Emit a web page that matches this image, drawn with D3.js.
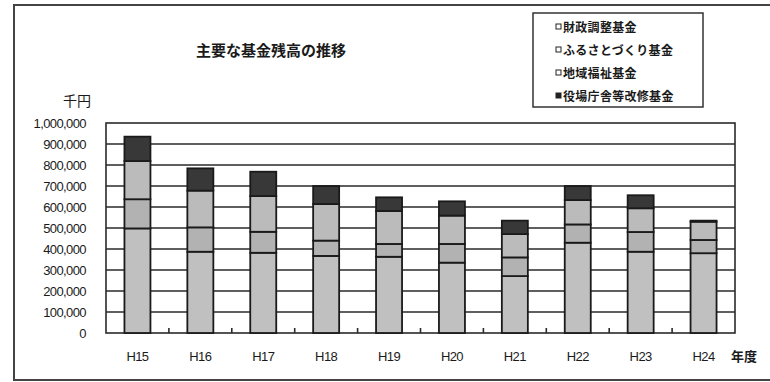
<!DOCTYPE html>
<html>
<head>
<meta charset="utf-8">
<script src="https://cdn.jsdelivr.net/npm/d3@7"></script>
<style>
  html, body { margin: 0; padding: 0; background: #fff; }
  svg { display: block; }
  text { font-family: "Liberation Sans", Arial, sans-serif; fill: #1a1a1a; }
  .jp { font-family: "Noto Sans CJK JP", sans-serif; }
</style>
</head>
<body>
<svg id="chart" width="770" height="382"></svg>
<script>
// Fiscal years (Heisei)
const categories = ["H15", "H16", "H17", "H18", "H19", "H20", "H21", "H22", "H23", "H24"];

// Fund balances, in thousand yen
const zaiseiChosei   = [498000, 387000, 382000, 367000, 363000, 335000, 271000, 430000, 387000, 380000];
const furusato       = [139000, 116000, 100000,  73000,  61000,  89000,  89000,  87000,  94000,  63000];
const chiikiFukushi  = [182000, 175000, 170000, 174000, 157000, 135000, 111000, 116000, 113000,  87000];
const yakubaKaishu   = [116000, 106000, 116000,  86000,  65000,  68000,  64000,  67000,  62000,   5000];

const seriesNames = ["財政調整基金", "ふるさとづくり基金", "地域福祉基金", "役場庁舎等改修基金"];
const seriesValues = [zaiseiChosei, furusato, chiikiFukushi, yakubaKaishu];
const yTicks = [0, 100000, 200000, 300000, 400000, 500000, 600000, 700000, 800000, 900000, 1000000];

const colors = ["#c0c0c0", "#b2b2b2", "#bbbbbb", "#383838"];

const svg = d3.select("#chart");

// outer frame
svg.append("rect")
  .attr("x", 14).attr("y", 5).attr("width", 770).attr("height", 375)
  .attr("fill", "none").attr("stroke", "#444").attr("stroke-width", 2);

const plot = { left: 106, right: 735, top: 123, bottom: 333 };

const x = d3.scaleBand().domain(categories).range([plot.left, plot.right]).paddingInner(0).paddingOuter(0);
const y = d3.scaleLinear().domain([0, 1000000]).range([plot.bottom, plot.top]);

// plot area
svg.append("rect")
  .attr("x", plot.left).attr("y", plot.top)
  .attr("width", plot.right - plot.left).attr("height", plot.bottom - plot.top)
  .attr("fill", "#fff").attr("stroke", "#2a2a2a").attr("stroke-width", 1.6);

// horizontal gridlines
svg.append("g").selectAll("line").data(yTicks.slice(1, -1)).join("line")
  .attr("x1", plot.left).attr("x2", plot.right)
  .attr("y1", d => y(d)).attr("y2", d => y(d))
  .attr("stroke", "#2a2a2a").attr("stroke-width", 1.6);

// y axis labels
const yAxis = d3.axisLeft(y).tickValues(yTicks).tickSize(0).tickPadding(20)
  .tickFormat(d3.format(","));
const gy = svg.append("g").attr("transform", `translate(${plot.left},0)`).call(yAxis);
gy.select(".domain").remove();
gy.selectAll("text").attr("font-size", 13).attr("letter-spacing", -0.6)
  .style("font-family", "'Liberation Sans', Arial, sans-serif").attr("fill", "#1a1a1a");

// x axis labels
const xAxis = d3.axisBottom(x).tickSize(0).tickPadding(19);
const gx = svg.append("g").attr("transform", `translate(0,${plot.bottom})`).call(xAxis);
gx.select(".domain").remove();
gx.selectAll("text").attr("font-size", 13).attr("letter-spacing", -0.6)
  .style("font-family", "'Liberation Sans', Arial, sans-serif").attr("fill", "#1a1a1a");

// small ticks between categories
svg.append("g").selectAll("line").data(categories.slice(1)).join("line")
  .attr("x1", d => x(d)).attr("x2", d => x(d))
  .attr("y1", plot.bottom).attr("y2", plot.bottom - 5)
  .attr("stroke", "#2a2a2a").attr("stroke-width", 1.6);

// stacked bars
const table = categories.map((c, i) => {
  const row = { cat: c };
  seriesNames.forEach((s, k) => row[s] = seriesValues[k][i]);
  return row;
});
const stacked = d3.stack().keys(seriesNames)(table);
const barW = 26;

svg.append("g").selectAll("g").data(stacked).join("g")
  .attr("fill", (d, k) => colors[k])
  .selectAll("rect").data(d => d).join("rect")
  .attr("x", d => x(d.data.cat) + x.bandwidth() / 2 - barW / 2)
  .attr("width", barW)
  .attr("y", d => y(d[1]))
  .attr("height", d => y(d[0]) - y(d[1]))
  .attr("stroke", "#1a1a1a").attr("stroke-width", 1.8);

// titles and unit labels
svg.append("text").attr("class", "jp")
  .attr("x", 271).attr("y", 56).attr("text-anchor", "middle")
  .attr("font-size", 15).attr("font-weight", "bold").text("主要な基金残高の推移");

svg.append("text").attr("class", "jp")
  .attr("x", 77).attr("y", 106).attr("text-anchor", "middle")
  .attr("font-size", 14).text("千円");

svg.append("text").attr("class", "jp")
  .attr("x", 744).attr("y", 361).attr("text-anchor", "middle")
  .attr("font-size", 13).attr("font-weight", "bold").text("年度");

// legend
const legend = svg.append("g");
legend.append("rect")
  .attr("x", 533).attr("y", 13).attr("width", 170).attr("height", 94)
  .attr("fill", "#fff").attr("stroke", "#333").attr("stroke-width", 1.5);
const items = legend.selectAll("g.item").data(seriesNames).join("g").attr("class", "item")
  .attr("transform", (d, i) => `translate(556,${28 + i * 23})`);
items.append("rect")
  .attr("x", 0).attr("y", -4).attr("width", 5).attr("height", 5)
  .attr("fill", (d, i) => i === 3 ? "#222" : "#fff")
  .attr("stroke", "#222").attr("stroke-width", 1);
items.append("text").attr("class", "jp")
  .attr("x", 7).attr("y", 0).attr("dy", "0.35em")
  .attr("font-size", 12).attr("font-weight", "bold").attr("letter-spacing", 0.3)
  .text(d => d);
</script>
</body>
</html>
